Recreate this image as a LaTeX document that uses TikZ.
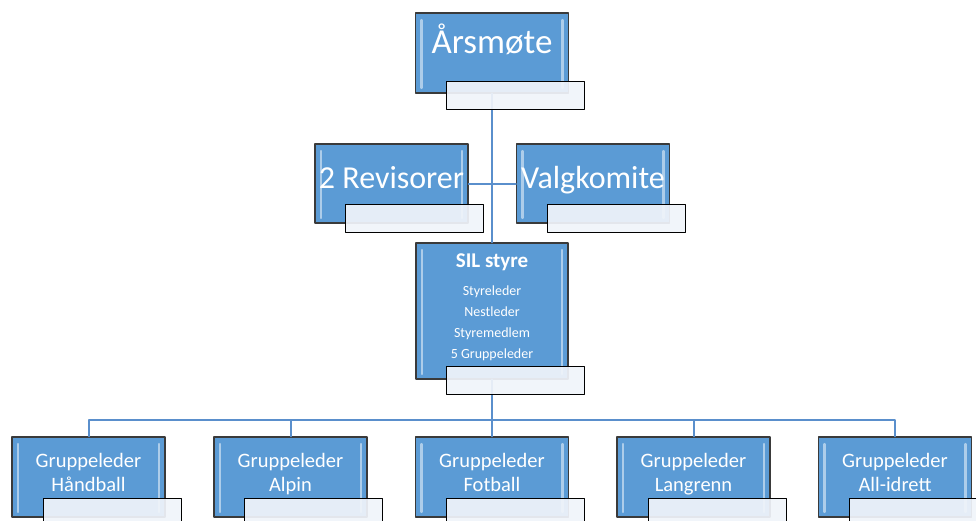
\documentclass[tikz,border=0pt]{standalone}
\usepackage{fontspec}
\setmainfont{Carlito}
\usepackage{xcolor}
\usepackage{tikz}
\definecolor{boxblue}{HTML}{5B9BD5}
\definecolor{boxedge}{HTML}{3A3A3A}
\definecolor{linkblue}{HTML}{5A8FCC}
\definecolor{tagfill}{HTML}{F0F4FA}

\begin{document}
\begin{tikzpicture}[line cap=round,line join=round,x=1pt,y=-1pt,
  orgbox/.style={draw=boxedge,line width=1.4pt,fill=boxblue,minimum width=153pt,minimum height=80pt,inner sep=0pt,
    path picture={\draw[white,opacity=0.5,line width=2.2pt]
      ([xshift=6pt,yshift=5pt]path picture bounding box.south west) -- ([xshift=6pt,yshift=-7pt]path picture bounding box.north west)
      ([xshift=-6pt,yshift=5pt]path picture bounding box.south east) -- ([xshift=-6pt,yshift=-7pt]path picture bounding box.north east);}},
  tag/.style={draw=black,line width=1pt,fill=tagfill,fill opacity=0.93,minimum width=138pt,minimum height=28pt,inner sep=0pt,anchor=north west},
  link/.style={draw=linkblue,line width=2pt},
  boxtext/.style={text=white,align=center,anchor=base,inner sep=0pt}]
\useasboundingbox (0,0) rectangle (976,520);
% boxes
\node[orgbox] (arsmote) at (492,53) {};
\node[orgbox,minimum height=79pt] (revisor) at (391.5,183.5) {};
\node[orgbox,minimum height=79pt] (valg) at (593,183.5) {};
\node[orgbox,minimum width=152pt,minimum height=136pt] (styre) at (492,311) {};
\node[orgbox] (handball) at (88.5,477) {};
\node[orgbox] (alpin) at (290.5,477) {};
\node[orgbox] (fotball) at (492,477) {};
\node[orgbox] (langrenn) at (693.5,477) {};
\node[orgbox] (allidrett) at (895,477) {};
% connectors
\coordinate (bus) at (492,420);
\draw[link] (arsmote) -- (styre);
\draw[link] (revisor) -- (valg);
\draw[link] (styre) -- (bus);
\draw[link] (bus) -| (handball);
\draw[link] (bus) -| (alpin);
\draw[link] (bus) -- (fotball);
\draw[link] (bus) -| (langrenn);
\draw[link] (bus) -| (allidrett);
% text tags
\node[tag] (arsmote-tag) at (445.5,81) {};
\node[tag] (revisor-tag) at (345,204) {};
\node[tag] (valg-tag) at (547,204) {};
\node[tag] (styre-tag) at (446,366) {};
\node[tag] (handball-tag) at (43,498) {};
\node[tag] (alpin-tag) at (244,498) {};
\node[tag] (fotball-tag) at (446,498) {};
\node[tag] (langrenn-tag) at (648,498) {};
\node[tag] (allidrett-tag) at (849,498) {};
% labels (base = last line)
\node[boxtext,font=\fontsize{35}{40}\selectfont] (arsmote-t) at (492,53) {Årsmøte};
\node[boxtext,font=\fontsize{32}{38}\selectfont] (revisor-t) at (391.5,188) {2 Revisorer};
\node[boxtext,font=\fontsize{32}{38}\selectfont] (valg-t) at (593,188) {Valgkomite};
\node[boxtext,font=\fontsize{21}{25}\selectfont\bfseries] (styre-t) at (492,267) {SIL styre};
\node[boxtext,font=\fontsize{14}{21}\selectfont] (styre-list) at (492,358) {Styreleder\\Nestleder\\Styremedlem\\5 Gruppeleder};
\node[boxtext,font=\fontsize{20.5}{24}\selectfont] (handball-t) at (88.5,491) {Gruppeleder\\Håndball};
\node[boxtext,font=\fontsize{20.5}{24}\selectfont] (alpin-t) at (290.5,491) {Gruppeleder\\Alpin};
\node[boxtext,font=\fontsize{20.5}{24}\selectfont] (fotball-t) at (492,491) {Gruppeleder\\Fotball};
\node[boxtext,font=\fontsize{20.5}{24}\selectfont] (langrenn-t) at (693.5,491) {Gruppeleder\\Langrenn};
\node[boxtext,font=\fontsize{20.5}{24}\selectfont] (allidrett-t) at (895,491) {Gruppeleder\\All-idrett};
\end{tikzpicture}
\end{document}
